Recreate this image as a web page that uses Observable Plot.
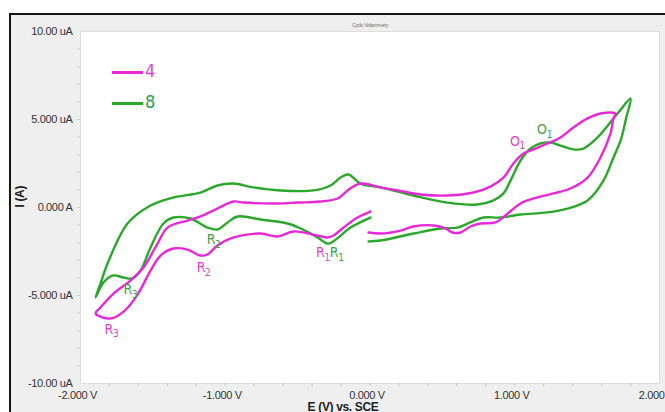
<!DOCTYPE html>
<html>
<head>
<meta charset="utf-8">
<script src="https://cdn.jsdelivr.net/npm/d3@7"></script>
<script src="https://cdn.jsdelivr.net/npm/@observablehq/plot@0.6"></script>
<style>
  html, body { margin: 0; padding: 0; background: #ffffff; }
  #wrap { position: relative; width: 665px; height: 412px; overflow: hidden; }
  #panel { position: absolute; left: 9px; top: 13px; right: 0; bottom: 0;
           background: #efefef; border-top: 2px solid #151515; border-left: 2px solid #151515; }
  #chart { position: absolute; left: 0; top: 0; }
  .leg { position: absolute; font-family: "DejaVu Sans Condensed", "Liberation Sans", sans-serif; font-size: 18px; line-height: 18px; }
  .leg i { display: inline-block; width: 31px; height: 3px; vertical-align: middle; margin-right: 2px; }
</style>
</head>
<body>
<div id="wrap">
  <div id="panel"></div>
  <div id="chart"></div>
  <div class="leg" style="left:112px; top:62px; color:#e53fc9;"><i style="background:#e628d6"></i>4</div>
  <div class="leg" style="left:112px; top:93px; color:#23a050;"><i style="background:#2aa82a"></i>8</div>
</div>
<script>
// ---- Data (E in V vs SCE, I in microamps) ----
const seriesNames = ["4", "8"];

// Scan "4" (magenta)
const E4 = [-0.010, 0.073, 0.211, 0.300, 0.439, 0.522, 0.570, 0.625, 0.694, 0.763, 0.867, 0.936, 1.040, 1.157, 1.268, 1.385, 1.503, 1.592, 1.661, 1.682, 1.696,
  1.592, 1.503, 1.406, 1.316, 1.226, 1.130, 1.060, 0.991, 0.922, 0.832, 0.715, 0.535, 0.349, 0.190, 0.073, -0.045, -0.086, -0.155, -0.224, -0.342, -0.501, -0.639, -0.874, -0.943, -1.054, -1.171, -1.261, -1.399, -1.468, -1.565, -1.655, -1.772, -1.862, -1.896,
  -1.793, -1.700, -1.606, -1.516, -1.447, -1.358, -1.261, -1.171, -1.123, -1.054, -0.943, -0.756, -0.639, -0.528, -0.363, -0.294, -0.252, -0.183, -0.086, 0.003];
const I4 = [-1.42, -1.48, -1.31, -1.08, -1.02, -1.19, -1.42, -1.42, -1.08, -0.91, -0.85, -0.45, 0.23, 0.57, 0.80, 1.08, 1.70, 2.84, 4.20, 5.06, 5.34,
  5.34, 5.06, 4.55, 3.98, 3.64, 3.30, 3.07, 2.50, 1.70, 1.19, 0.85, 0.68, 0.74, 0.97, 1.14, 1.36, 1.31, 0.97, 0.51, 0.34, 0.28, 0.23, 0.28, 0.34, -0.06, -0.50, -0.74, -1.14, -2.05, -3.41, -4.15, -4.89, -5.68, -6.02,
  -6.31, -5.90, -4.95, -3.58, -2.73, -2.33, -2.39, -2.73, -2.67, -2.16, -1.70, -1.48, -1.65, -1.36, -1.59, -1.70, -1.59, -1.14, -0.57, -0.23];

// Scan "8" (green)
const E8 = [-0.010, 0.073, 0.300, 0.487, 0.604, 0.694, 0.784, 0.902, 1.040, 1.226, 1.364, 1.503, 1.613, 1.682, 1.735, 1.770, 1.800,
  1.710, 1.572, 1.475, 1.406, 1.316, 1.247, 1.178, 1.109, 1.040, 0.971, 0.922, 0.853, 0.743, 0.535, 0.300, 0.073, -0.066, -0.149, -0.204, -0.273, -0.390, -0.618, -0.805, -0.943, -1.054, -1.171, -1.358, -1.516, -1.675, -1.813, -1.862, -1.896,
  -1.841, -1.772, -1.703, -1.641, -1.585, -1.516, -1.427, -1.358, -1.240, -1.123, -1.054, -0.984, -0.915, -0.756, -0.570, -0.480, -0.363, -0.287, -0.218, -0.135, 0.003];
const I8 = [-1.93, -1.875, -1.48, -1.19, -1.14, -0.85, -0.57, -0.57, -0.40, -0.28, -0.06, 0.40, 1.53, 2.84, 3.90, 5.10, 6.19,
  5.34, 3.98, 3.35, 3.30, 3.52, 3.69, 3.64, 3.35, 2.67, 1.53, 0.80, 0.40, 0.17, 0.28, 0.68, 1.14, 1.36, 1.875, 1.70, 1.25, 0.97, 0.97, 1.14, 1.36, 1.25, 0.85, 0.57, 0.11, -0.91, -3.18, -4.32, -5.11,
  -4.26, -3.86, -3.98, -4.03, -3.58, -2.27, -0.91, -0.57, -0.625, -1.14, -1.25, -0.85, -0.51, -0.68, -0.91, -1.19, -1.70, -2.05, -1.70, -1.14, -0.57];

// Peak annotations
const peakText   = ["R3", "R3", "R2", "R2", "R1", "R1", "O1", "O1"];
const peakSeries = ["4", "8", "4", "8", "4", "8", "4", "8"];
const peakE      = [-1.786, -1.655, -1.150, -1.081, -0.325, -0.230, 1.019, 1.206];
const peakI      = [-6.93, -4.66, -3.41, -1.82, -2.56, -2.56, 3.75, 4.43];

// Axis ticks
const xTicks = [-2, -1, 0, 1, 2];
const xMinorTicks = [-1.8, -1.6, -1.4, -1.2, -1.0, -0.8, -0.6, -0.4, -0.2, 0, 0.2, 0.4, 0.6, 0.8, 1.0, 1.2, 1.4, 1.6, 1.8];
const yTicks = [-10, -5, 0, 5, 10];
const yTickLabels = ["-10.00 uA", "-5.000 uA", "0.000 A", "5.000 uA", "10.00 uA"];
const yMinorTicks = [-9, -8, -7, -6, -5, -4, -3, -2, -1, 0, 1, 2, 3, 4, 5, 6, 7, 8, 9];

const lineColor = {"4": "#e628d6", "8": "#2aa82a"};
const textColor = {"4": "#e53fc9", "8": "#3da24a"};

const toRows = (E, I, s) => E.map((e, i) => ({E: e, I: I[i], s}));
const data4 = toRows(E4, I4, "4");
const data8 = toRows(E8, I8, "8");
const peaks = peakText.map((t, i) => ({t, s: peakSeries[i], E: peakE[i], I: peakI[i]}));

const tickFont = '"Liberation Sans", Arial, sans-serif';
const peakFont = '"DejaVu Sans Condensed", "Liberation Sans", sans-serif';

const chart = Plot.plot({
  width: 665,
  height: 412,
  marginLeft: 80,
  marginRight: 6,
  marginTop: 31,
  marginBottom: 29,
  style: {background: "transparent", fontFamily: tickFont, color: "#333"},
  x: {domain: [-2, 2]},
  y: {domain: [-10, 10]},
  marks: [
    Plot.frame({fill: "white", stroke: "#dedede"}),
    Plot.axisX(xMinorTicks, {tickSize: 3, stroke: "#c4c4c4", tickFormat: null, label: null, text: null}),
    Plot.axisX(xTicks, {tickSize: 0, tickPadding: 8, dx: -3, fontSize: 11, fill: "#333",
      tickFormat: d => d.toFixed(3) + " V", label: null}),
    Plot.axisY(yMinorTicks, {tickSize: 3, anchor: "left", stroke: "#cfcfcf", tickFormat: null, label: null, text: null}),
    Plot.axisY(yTicks, {tickSize: 0, tickPadding: 8, fontSize: 11, fill: "#333",
      tickFormat: d => yTickLabels[yTicks.indexOf(d)], label: null}),
    Plot.text(["Cyclic Voltammetry"], {frameAnchor: "top", dy: -8, fontSize: 5, fill: "#777"}),
    Plot.text(["I (A)"], {frameAnchor: "left", dx: -60, rotate: -90, fontSize: 12, fontWeight: "bold", fill: "#222"}),
    Plot.text(["E (V) vs. SCE"], {frameAnchor: "bottom", dx: -27, dy: 27, fontSize: 12, fontWeight: "bold", fill: "#222"}),
    Plot.line(data8, {x: "E", y: "I", stroke: lineColor["8"], strokeWidth: 2.4, curve: "catmull-rom"}),
    Plot.line(data4, {x: "E", y: "I", stroke: lineColor["4"], strokeWidth: 2.4, curve: "catmull-rom"}),
    Plot.text(peaks, {x: "E", y: "I", text: "t", fill: d => textColor[d.s], fontSize: 14, fontFamily: peakFont})
  ]
});
document.getElementById("chart").appendChild(chart);

// Letter-spacing for the narrow tick-label look
d3.select(chart).style("letter-spacing", "-0.35px");

// Render the peak labels with subscript numbers
d3.select(chart).selectAll("text").each(function() {
  const t = this.textContent;
  if (!peakText.includes(t) || this.children.length > 0) return;
  const el = d3.select(this);
  el.text(t.slice(0, -1));
  el.append("tspan").attr("dy", "0.35em").attr("font-size", "10").text(t.slice(-1));
});
</script>
</body>
</html>
